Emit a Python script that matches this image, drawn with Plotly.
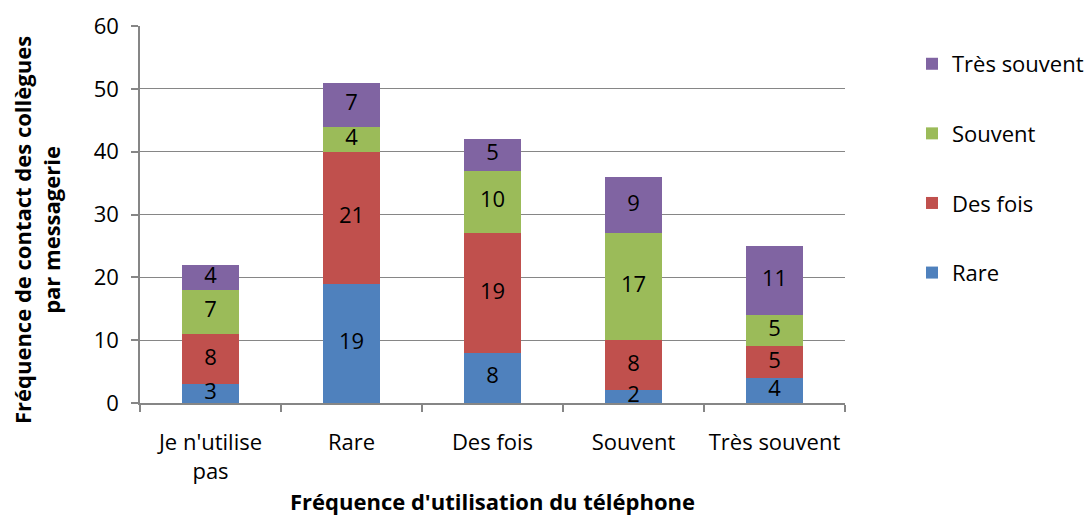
import numpy as np
import plotly.graph_objects as go

categories = ["Je n'utilise<br>pas", "Rare", "Des fois", "Souvent", "Très souvent"]
series_names = ["Rare", "Des fois", "Souvent", "Très souvent"]
rare = [3, 19, 8, 2, 4]
des_fois = [8, 21, 19, 8, 5]
souvent = [7, 4, 10, 17, 5]
tres_souvent = [4, 7, 5, 9, 11]
colors = ["#4F81BD", "#C0504D", "#9BBB59", "#8064A2"]

FONT = "'Open Sans', sans-serif"
series_values = [rare, des_fois, souvent, tres_souvent]

fig = go.Figure()
n = len(series_names)
for i, (name, vals, col) in enumerate(zip(series_names, series_values, colors)):
    fig.add_trace(go.Bar(
        x=categories, y=vals, name=name,
        marker=dict(color=col, line=dict(width=0)),
        legendgroup=name, legendrank=n - i,
        textposition="none",
        hoverinfo="skip",
    ))

# value labels centred in each segment
base = np.zeros(len(categories))
for vals in series_values:
    v = np.array(vals, dtype=float)
    fig.add_trace(go.Scatter(
        x=categories, y=base + v / 2, mode="text",
        text=[str(int(t)) for t in v],
        textfont=dict(family=FONT, size=22, color="black"),
        showlegend=False, hoverinfo="skip",
    ))
    base = base + v

axis_col = "#868686"
fig.update_layout(
    barmode="stack",
    bargap=0.6,
    width=1088, height=516,
    margin=dict(l=140, r=243, t=26, b=113, autoexpand=False),
    plot_bgcolor="white", paper_bgcolor="white",
    font=dict(family=FONT, size=22, color="black"),
    legend=dict(
        traceorder="grouped", tracegroupgap=38,
        x=1.095, xanchor="left", y=0.955, yanchor="top",
        font=dict(family=FONT, size=22),
        itemwidth=30,
    ),
    xaxis=dict(
        showline=True, linecolor=axis_col, linewidth=1.5,
        ticks="outside", tickson="boundaries", ticklen=7, tickcolor=axis_col,
        tickwidth=1.5, ticklabelstandoff=19, tickangle=0, automargin=False,
        tickfont=dict(size=22),
        title=dict(text="<b>Fréquence d'utilisation du téléphone</b>",
                   font=dict(size=22), standoff=18),
    ),
    yaxis=dict(
        range=[0, 60], dtick=10,
        showline=True, linecolor=axis_col, linewidth=1.5,
        ticks="outside", ticklen=7, tickcolor=axis_col, tickwidth=1.5,
        ticklabelstandoff=8, automargin=False,
        showgrid=True, gridcolor=axis_col, gridwidth=1.2,
        zeroline=False,
        tickfont=dict(size=22),
    ),
    annotations=[dict(
        text="<b>Fréquence de contact des collègues<br>par messagerie</b>",
        textangle=-90, xref="paper", yref="paper",
        x=-0.146, y=0.459, xanchor="center", yanchor="middle",
        showarrow=False, font=dict(family=FONT, size=22, color="black"),
    )],
)

fig.write_html("out.html")
